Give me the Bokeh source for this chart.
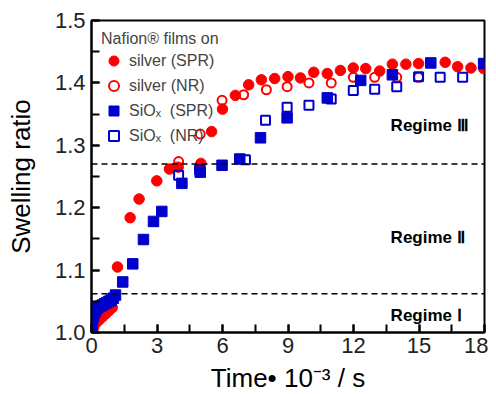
from bokeh.plotting import figure
from bokeh.models import Span, Label, Legend, LegendItem, Range1d, SingleIntervalTicker, PrintfTickFormatter
from bokeh.embed import file_html
from bokeh.resources import INLINE

# ---- data (Time in 10^3 s, swelling ratio) ----
red_spr_x = [0, 0.1, 0.2, 0.35, 0.5, 0.65, 0.8, 0.95, 1.19, 1.77, 2.18, 2.99, 3.57, 3.97, 5.01,
             5.5, 6.0, 6.59, 7.2, 7.78, 8.39, 9.0, 9.57, 10.18, 10.8, 11.4, 11.99, 12.56,
             13.2, 13.78, 14.4, 14.98, 16.2, 16.77, 17.38, 17.96]
red_spr_y = [1.0, 1.008, 1.015, 1.02, 1.025, 1.03, 1.035, 1.04, 1.105, 1.184, 1.214, 1.243, 1.262, 1.265, 1.271,
             1.322, 1.358, 1.380, 1.397, 1.405, 1.407, 1.41, 1.408, 1.417, 1.415, 1.42, 1.424, 1.423,
             1.419, 1.43, 1.43, 1.431, 1.433, 1.426, 1.424, 1.423]

red_nr_x = [3.99, 4.98, 5.98, 6.97, 8.01, 8.96, 9.96, 10.98, 11.99, 12.97, 13.98, 14.98]
red_nr_y = [1.274, 1.318, 1.372, 1.381, 1.389, 1.394, 1.40, 1.40, 1.409, 1.409, 1.409, 1.409]

blue_spr_x = [0.02, 0.05, 0.1, 0.15, 0.2, 0.3, 0.4, 0.5, 0.6, 0.7, 0.8, 0.9, 1.0, 1.1, 1.43, 1.89,
              2.38, 2.84, 3.22, 4.14, 4.98, 5.98, 6.79, 7.74, 8.96, 10.8, 12.33, 13.78, 15.54, 17.96]
blue_spr_y = [1.01, 1.02, 1.027, 1.032, 1.036, 1.04, 1.042, 1.044, 1.046, 1.048, 1.05, 1.052, 1.055, 1.06,
              1.081, 1.110, 1.149, 1.178, 1.194, 1.239, 1.257, 1.268, 1.278, 1.312, 1.344, 1.376,
              1.404, 1.413, 1.432, 1.431]

blue_nr_x = [3.99, 4.95, 7.05, 7.97, 8.96, 9.96, 10.98, 11.99, 12.97, 13.98, 14.98, 15.97, 17.0]
blue_nr_y = [1.252, 1.261, 1.277, 1.34, 1.361, 1.364, 1.374, 1.388, 1.39, 1.394, 1.41, 1.409, 1.409]

regime_bounds = [1.062, 1.27]
regime_labels = ["Regime Ⅰ", "Regime Ⅱ", "Regime Ⅲ"]
regime_label_y = [1.027, 1.153, 1.332]
regime_label_x = 13.7

RED = "#ff0000"
BLUE = "#0000cc"
FONT = "Liberation Sans"

p = figure(frame_width=393, frame_height=312, output_backend="svg", toolbar_location=None,
           x_range=Range1d(0, 18), y_range=Range1d(1.0, 1.5),
           min_border_left=91, min_border_right=4, min_border_top=20, min_border_bottom=0)
p.grid.visible = False
p.background_fill_color = "white"
p.border_fill_color = "white"
p.outline_line_color = "black"
p.outline_line_width = 2
p.outline_line_alpha = 1

p.xaxis.ticker = SingleIntervalTicker(interval=3, num_minor_ticks=2)
p.yaxis.ticker = SingleIntervalTicker(interval=0.1, num_minor_ticks=2)
p.yaxis.formatter = PrintfTickFormatter(format="%.1f")

for ax in (p.xaxis[0], p.yaxis[0]):
    ax.axis_line_width = 2
    ax.major_tick_in = 8
    ax.major_tick_out = 0
    ax.minor_tick_in = 8
    ax.minor_tick_out = 0
    ax.major_tick_line_width = 2
    ax.minor_tick_line_width = 2
    ax.major_label_text_font = FONT
    ax.major_label_text_font_size = "22px"
    ax.major_label_text_color = "#222222"
    ax.axis_label_text_font = FONT
    ax.axis_label_text_font_size = "26px"
    ax.axis_label_text_font_style = "normal"
    ax.axis_label_text_color = "black"

p.xaxis.axis_label = "Time• 10⁻³ / s"
p.yaxis.axis_label = "Swelling ratio"
p.xaxis.major_label_standoff = 5
p.yaxis.major_label_standoff = 6
p.xaxis.axis_label_standoff = 7
p.yaxis.axis_label_standoff = 16

for yb in regime_bounds:
    p.add_layout(Span(location=yb, dimension="width", line_color="black",
                      line_width=1.5, line_dash="6 4"))

for lbl, ly in zip(regime_labels, regime_label_y):
    p.add_layout(Label(x=regime_label_x, y=ly, text=lbl, text_font=FONT,
                       text_font_size="17px", text_font_style="bold",
                       text_color="black", text_baseline="alphabetic"))

r1 = p.scatter(red_spr_x, red_spr_y, marker="circle", size=10.5, fill_color=RED, line_color=RED)
r2 = p.scatter(red_nr_x, red_nr_y, marker="circle", size=9, fill_color=None,
               line_color=RED, line_width=2)
r3 = p.scatter(blue_spr_x, blue_spr_y, marker="square", size=10.5, fill_color=BLUE, line_color=BLUE)
r4 = p.scatter(blue_nr_x, blue_nr_y, marker="square", size=9, fill_color=None,
               line_color=BLUE, line_width=2)

legend = Legend(items=[
    LegendItem(label="silver (SPR)", renderers=[r1]),
    LegendItem(label="silver (NR)", renderers=[r2]),
    LegendItem(label="SiOₓ  (SPR)", renderers=[r3]),
    LegendItem(label="SiOₓ  (NR)", renderers=[r4]),
], location="top_left")
legend.title = "Nafion® films on"
legend.title_text_font = FONT
legend.title_text_font_size = "16px"
legend.title_text_font_style = "normal"
legend.title_standoff = 0
legend.label_text_font = FONT
legend.label_text_font_size = "16px"
legend.label_height = 17
legend.glyph_height = 25
legend.glyph_width = 25
legend.label_standoff = 3
legend.spacing = -8
legend.padding = 8
legend.margin = 10
legend.border_line_color = None
legend.background_fill_alpha = 0
p.add_layout(legend)

open("out.html", "w").write(file_html(p, INLINE))
